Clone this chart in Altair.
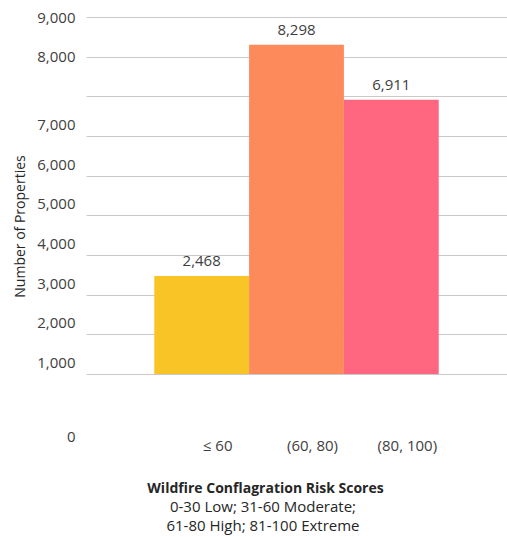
import altair as alt
import pandas as pd

# Property counts by wildfire conflagration risk score band
categories = ["≤ 60", "(60, 80)", "(80, 100)"]
counts = [2468, 8298, 6911]
colors = ["#F9C526", "#FD8A5A", "#FF6781"]
y_ticks = [0, 1000, 2000, 3000, 4000, 5000, 6000, 7000, 8000, 9000]

df = pd.DataFrame({"band": categories, "count": counts, "color": colors})

FONT = "Open Sans"
TEXT = "#404040"

base = alt.Chart(df).encode(
    x=alt.X(
        "band:N",
        sort=categories,
        scale=alt.Scale(paddingInner=0, paddingOuter=0.72),
        axis=alt.Axis(
            title="Wildfire Conflagration Risk Scores",
            labelAngle=0,
            labelFont=FONT,
            labelFontSize=15,
            labelColor=TEXT,
            labelPadding=64,
            labelOffset=16,
            grid=False,
            ticks=False,
            tickSize=0,
            domain=False,
            titleFont=FONT,
            titleFontSize=14,
            titleFontWeight="bold",
            titleColor="#262626",
            titleX=179,
            titleY=107,
            titleAlign="center",
            titleBaseline="top",
        ),
    ),
    y=alt.Y(
        "count:Q",
        scale=alt.Scale(domain=[0, 9000], nice=False),
        axis=alt.Axis(
            values=y_ticks,
            format=",.0f",
            title="Number of Properties",
            domain=False,
            ticks=False,
            tickSize=0,
            labelPadding=11,
            labelFont=FONT,
            labelFontSize=15,
            labelColor=TEXT,
            labelOffset={
                "condition": [
                    {"test": "datum.value == 0", "value": 62},
                    {"test": "datum.value >= 8000", "value": 0},
                ],
                "value": 28,
            },
            gridColor="#C9C9C9",
            gridWidth=1,
            titleFont=FONT,
            titleFontSize=14,
            titleFontWeight="normal",
            titleColor="#262626",
            titleX=-66,
            titleY=209,
            titleAlign="center",
            titleBaseline="middle",
            titleAngle=270,
        ),
    ),
)

bars = base.mark_bar().encode(
    color=alt.Color("color:N", scale=None, legend=None)
)

labels = base.mark_text(
    baseline="bottom", dy=-7, font=FONT, fontSize=15, color=TEXT
).encode(text=alt.Text("count:Q", format=",.0f"))

subtitle_lines = ["0-30 Low; 31-60 Moderate;", "61-80 High; 81-100 Extreme"]

chart = (
    alt.layer(bars, labels)
    .properties(
        width=421,
        height=357,
        view=alt.ViewBackground(stroke="transparent", strokeWidth=0),
        autosize=alt.AutoSizeParams(type="none"),
        padding={"left": 86, "top": 17, "right": 0, "bottom": 163},
        title=alt.TitleParams(
            text=subtitle_lines,
            orient="bottom",
            anchor="middle",
            frame="bounds",
            font=FONT,
            fontSize=15,
            fontWeight="normal",
            color="#262626",
            lineHeight=19,
            offset=5,
            dx=3,
        ),
    )
    .configure_view(stroke="transparent", strokeWidth=0)
    .configure_axis(domain=False)
    .configure(background="white")
)

chart.save("out.html", embed_options={"renderer": "svg", "actions": False})
